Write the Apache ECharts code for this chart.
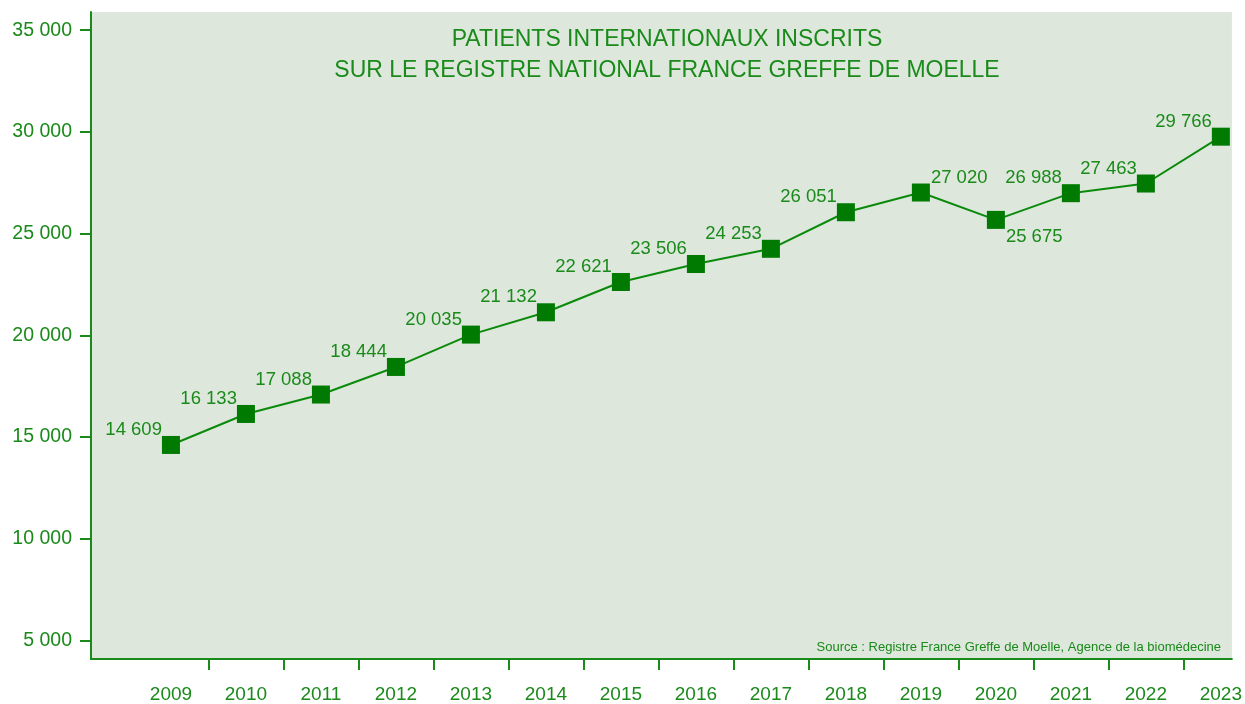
<!DOCTYPE html>
<html>
<head>
<meta charset="utf-8">
<script src="https://cdn.jsdelivr.net/npm/echarts@6/dist/echarts.min.js"></script>
<style>
  html, body { margin: 0; padding: 0; background: #fff; }
  #chart { width: 1245px; height: 704px; }
</style>
</head>
<body>
<div id="chart"></div>
<script>
// données
var years = [2009, 2010, 2011, 2012, 2013, 2014, 2015, 2016, 2017, 2018, 2019, 2020, 2021, 2022, 2023];
var patients = [14609, 16133, 17088, 18444, 20035, 21132, 22621, 23506, 24253, 26051, 27020, 25675, 26988, 27463, 29766];
var yTicks = [5000, 10000, 15000, 20000, 25000, 30000, 35000];
var titleLines = ["PATIENTS INTERNATIONAUX INSCRITS", "SUR LE REGISTRE NATIONAL FRANCE GREFFE DE MOELLE"];
var sourceText = "Source : Registre France Greffe de Moelle, Agence de la biomédecine";

var green = "#1a8a1a";
var font = "Liberation Sans, Arial, sans-serif";

function fmt(v) {
  return String(v).replace(/\B(?=(\d{3})+(?!\d))/g, " ");
}

// ticks de l'axe x entre les années
var xTickVals = years.slice(0, -1).map(function (y) { return y + 0.5; });

// placement des étiquettes (la plupart en haut à gauche)
var data = years.map(function (y, i) {
  var label = { position: "left", distance: 0, offset: [0, -15] };
  if (y === 2019) label = { position: "right", distance: 1, offset: [0, -15] };
  if (y === 2020) label = { position: "right", distance: 1, offset: [0, 17] };
  return { value: [y, patients[i]], label: label };
});

var chart = echarts.init(document.getElementById("chart"));
chart.setOption({
  animation: false,
  grid: {
    left: 91, right: 12, top: 12, bottom: 42,
    show: true, backgroundColor: "#dde7dc", borderWidth: 0
  },
  title: [
    {
      text: titleLines.join("\n"),
      left: 662, top: 19, textAlign: "center",
      textStyle: { color: green, fontSize: 23, fontWeight: "normal", fontFamily: font, lineHeight: 31 }
    },
    {
      text: sourceText,
      right: 19, top: 636,
      textStyle: { color: green, fontSize: 13, fontWeight: "normal", fontFamily: font }
    }
  ],
  xAxis: {
    type: "value",
    min: 2007.934, max: 2023.147,
    splitLine: { show: false },
    axisLine: { lineStyle: { color: green, width: 2 } },
    axisTick: { show: true, length: 11, customValues: xTickVals, lineStyle: { color: green, width: 2 } },
    axisLabel: {
      customValues: years, color: green, fontSize: 19, fontFamily: font, margin: 26,
      formatter: function (v) { return String(Math.round(v)); }
    }
  },
  yAxis: {
    type: "value",
    min: 4085, max: 35896,
    splitLine: { show: false },
    axisLine: { show: true, lineStyle: { color: green, width: 2 } },
    axisTick: { show: true, length: 11, customValues: yTicks, lineStyle: { color: green, width: 2 } },
    axisLabel: { customValues: yTicks, color: green, fontSize: 19.5, fontFamily: font, margin: 19, formatter: fmt }
  },
  series: [{
    type: "line",
    data: data,
    symbol: "rect",
    symbolSize: 18,
    itemStyle: { color: "#007a00" },
    lineStyle: { color: "#0a8a0a", width: 2 },
    label: {
      show: true,
      color: green, fontSize: 18.5, fontFamily: font,
      formatter: function (p) { return fmt(p.value[1]); }
    }
  }]
});
</script>
</body>
</html>
